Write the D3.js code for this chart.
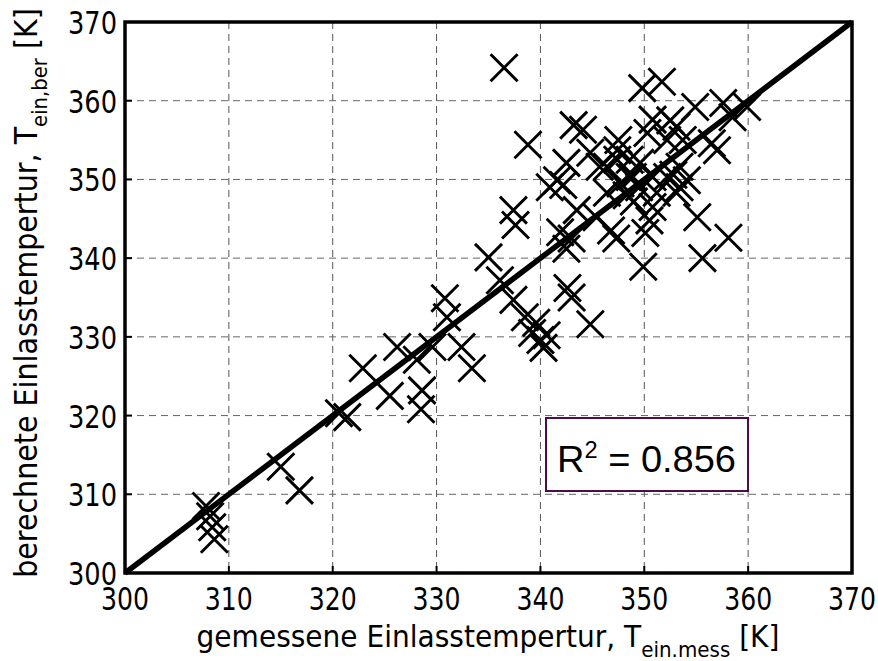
<!DOCTYPE html>
<html><head><meta charset="utf-8">
<script src="https://cdn.jsdelivr.net/npm/d3@7"></script>
<style>html,body{margin:0;padding:0;background:#fff;}svg{display:block;}</style>
</head><body>
<svg id="c" width="878" height="661"></svg>
<script>
// ---- data ----
const xTicks = [300, 310, 320, 330, 340, 350, 360, 370];
const yTicks = [300, 310, 320, 330, 340, 350, 360, 370];
const fitLine = [300, 370];
const r2Label = "0.856";
const measured = [307.8,308.2,308.4,308.6,315.0,316.8,320.6,321.4,322.9,325.5,326.2,328.1,328.6,328.5,329.6,330.8,331.0,332.4,333.4,335.0,
  336.1,337.4,337.6,337.4,336.5,338.8,338.5,339.2,339.6,340.0,340.3,340.6,342.6,343.0,344.8,341.9,342.5,343.0,343.5,342.5,
  340.9,341.6,342.2,343.2,344.1,344.8,345.7,346.4,347.5,347.4,348.6,347.4,348.6,346.4,349.6,348.9,347.7,351.2,353.1,352.2,
  354.1,353.4,349.8,351.7,354.9,357.6,358.5,357.0,356.5,350.8,350.3,353.1,353.7,352.2,355.1,358.1,355.6,353.4,350.8,350.5,
  350.1,349.9,352.8,350.8,359.9,352.5,346.8,347.3,348.3,349.0,349.5,345.4];
const computed = [308.5,307.2,305.8,304.3,313.5,310.5,320.3,319.8,326.0,322.5,328.7,327.1,323.2,320.8,328.7,334.9,332.5,328.7,326.0,340.1,
  337.2,346.1,344.2,334.7,364.2,354.4,332.5,330.5,331.8,329.6,328.6,330.2,336.2,335.0,331.6,343.3,341.2,342.5,346.1,352.1,
  349.0,349.9,349.3,356.9,356.3,353.4,351.6,348.3,355.0,352.5,350.3,353.7,352.5,351.6,352.1,350.3,349.5,348.3,348.3,350.3,
  349.9,351.6,361.6,362.4,359.2,359.7,357.9,353.7,354.6,357.6,355.9,356.7,355.0,355.0,345.2,342.6,340.0,349.0,346.5,344.8,
  343.2,338.9,350.6,350.3,359.2,357.5,343.5,342.5,348.0,347.2,349.0,345.2];

// ---- layout ----
const L = 125, R = 852, T = 22, B = 573;
const svg = d3.select("#c");
const x = d3.scaleLinear().domain([300, 370]).range([L, R]);
const y = d3.scaleLinear().domain([300, 370]).range([B, T]);
const FONT = "DejaVu Sans, Verdana, sans-serif";

// grid
const g = svg.append("g");
g.selectAll("line.gx").data(xTicks.slice(1, -1)).join("line")
  .attr("x1", d => x(d)).attr("x2", d => x(d)).attr("y1", T).attr("y2", B)
  .attr("stroke", "#555").attr("stroke-width", 1).attr("stroke-dasharray", "7,5");
g.selectAll("line.gy").data(yTicks.slice(1, -1)).join("line")
  .attr("y1", d => y(d)).attr("y2", d => y(d)).attr("x1", L).attr("x2", R)
  .attr("stroke", "#666").attr("stroke-width", 1).attr("stroke-dasharray", "7,5");

// ticks (inward)
g.selectAll("line.tx").data(xTicks.slice(1, -1)).join("line")
  .attr("x1", d => x(d)).attr("x2", d => x(d)).attr("y1", B).attr("y2", B - 7)
  .attr("stroke", "#000").attr("stroke-width", 2);
g.selectAll("line.ty").data(yTicks.slice(1, -1)).join("line")
  .attr("y1", d => y(d)).attr("y2", d => y(d)).attr("x1", L).attr("x2", L + 7)
  .attr("stroke", "#000").attr("stroke-width", 2);

// markers
const pts = measured.map((m, i) => [m, computed[i]]);
const s = 13.5;
svg.append("g").selectAll("path").data(pts).join("path")
  .attr("d", d => {
    const cx = x(d[0]), cy = y(d[1]);
    return `M${cx - s},${cy - s}L${cx + s},${cy + s}M${cx - s},${cy + s}L${cx + s},${cy - s}`;
  })
  .attr("stroke", "#000").attr("stroke-width", 2.9).attr("fill", "none");

// fit line
svg.append("line")
  .attr("x1", x(fitLine[0])).attr("y1", y(fitLine[0]))
  .attr("x2", x(fitLine[1])).attr("y2", y(fitLine[1]))
  .attr("stroke", "#000").attr("stroke-width", 5.5);

// frame
svg.append("rect").attr("x", L).attr("y", T).attr("width", R - L).attr("height", B - T)
  .attr("fill", "none").attr("stroke", "#000").attr("stroke-width", 3.5);

function fit(sel, target) {
  return target / sel.node().getComputedTextLength();
}

// x tick labels
xTicks.forEach(t => {
  const tx = svg.append("text").attr("font-family", FONT).attr("font-size", 32)
    .attr("text-anchor", "middle").text(t);
  const k = fit(tx, 48);
  tx.attr("transform", `translate(${x(t)},610) scale(${k},1)`);
});
// y tick labels
yTicks.forEach(t => {
  const ty = svg.append("text").attr("font-family", FONT).attr("font-size", 32)
    .attr("text-anchor", "end").text(t);
  const k = fit(ty, 49);
  ty.attr("transform", `translate(117,${y(t) + 12}) scale(${k},1)`);
});

// x title
const xt = svg.append("text").attr("font-family", FONT).attr("font-size", 31).attr("text-anchor", "middle");
xt.append("tspan").text("gemessene Einlasstempertur, T");
xt.append("tspan").attr("font-size", 22).attr("dy", 10).text("ein.mess");
xt.append("tspan").attr("dy", -10).text(" [K]");
const kx = fit(xt, 583);
xt.attr("transform", `translate(488,647) scale(${kx},1)`);

// y title
const yt = svg.append("text").attr("font-family", FONT).attr("font-size", 32).attr("text-anchor", "middle");
yt.append("tspan").text("berechnete Einlasstempertur, T");
yt.append("tspan").attr("font-size", 22).attr("dy", 10).text("ein,ber");
yt.append("tspan").attr("dy", -10).text(" [K]");
const ky = fit(yt, 570);
yt.attr("transform", `translate(37,293) rotate(-90) scale(${ky},1)`);

// R^2 box
svg.append("rect").attr("x", 546).attr("y", 418).attr("width", 202).attr("height", 73)
  .attr("fill", "#fff").attr("stroke", "#4a0f48").attr("stroke-width", 2);
const rt = svg.append("text").attr("font-family", "Liberation Sans, Arial, sans-serif").attr("font-size", 37);
rt.append("tspan").text("R");
rt.append("tspan").attr("font-size", 23).attr("dy", -14).text("2");
rt.append("tspan").attr("dy", 14).text(" = " + r2Label);
const kr = fit(rt, 179);
rt.attr("transform", `translate(557,472) scale(${kr},1)`);
</script>
</body></html>
